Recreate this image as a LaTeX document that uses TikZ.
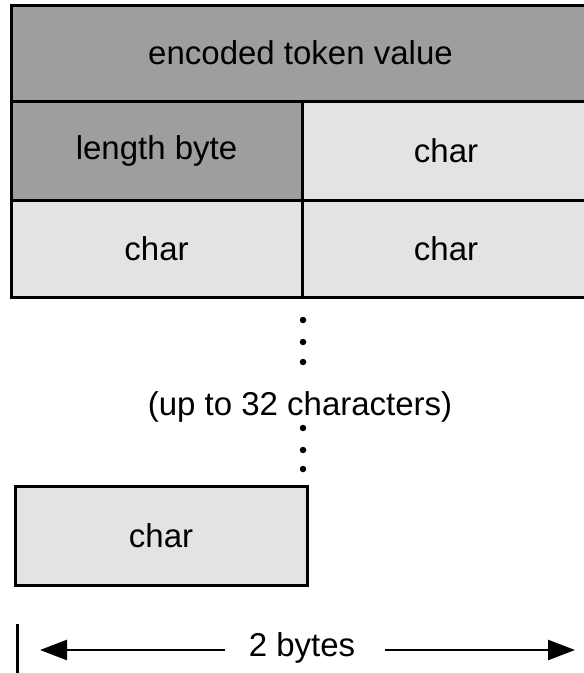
\documentclass[tikz,border=0pt]{standalone}
\usepackage{fontspec}
\setmainfont{Liberation Sans}
\usetikzlibrary{arrows.meta}

\definecolor{darkfill}{gray}{0.62}
\definecolor{lightfill}{gray}{0.89}

\tikzset{
  cell/.style={draw=black, line width=3pt, rectangle, inner sep=0pt,
               font=\fontsize{33}{38}\selectfont},
  darkcell/.style={cell, fill=darkfill},
  lightcell/.style={cell, fill=lightfill},
  label/.style={font=\fontsize{33}{38}\selectfont, inner sep=0pt},
  dot/.style={circle, fill=black, inner sep=0pt, minimum size=6.5pt},
  span/.style={line width=2.6pt, -{Triangle[length=27pt,width=20pt]}},
}

\begin{document}
\begin{tikzpicture}[x=1pt, y=-1pt]
  \useasboundingbox (0,0) rectangle (584,673);

  % record layout
  \node[darkcell, minimum width=579pt, minimum height=96pt] (token) at (300.5,53) {encoded token value};
  \node[darkcell, minimum width=291pt, minimum height=99pt] (len) at (156.5,150.5) {length byte};
  \node[lightcell, minimum width=288pt, minimum height=99pt] (c1) at (446,150.5) {char};
  \node[lightcell, minimum width=291pt, minimum height=97pt] (c2) at (156.5,248.5) {char};
  \node[lightcell, minimum width=288pt, minimum height=97pt] (c3) at (446,248.5) {char};

  % continuation marks
  \node[dot] (d1) at (303,320) {};
  \node[dot] (d2) at (303,342) {};
  \node[dot] (d3) at (303,362) {};
  \node[label] (upto) at (300,407) {(up to 32 characters)};
  \node[dot] (d4) at (303,428) {};
  \node[dot] (d5) at (303,450) {};
  \node[dot] (d6) at (303,469) {};

  % last character
  \node[lightcell, minimum width=292pt, minimum height=99pt] (clast) at (161,535.5) {char};

  % width indicator
  \coordinate (bartop) at (17,624);
  \coordinate (barbot) at (17,676);
  \draw[line width=3pt] (bartop) -- (barbot);
  \node[label] (bytes) at (302,648) {2 bytes};
  \coordinate (lstart) at (225,650);
  \coordinate (ltip) at (40,650);
  \coordinate (rstart) at (385,650);
  \coordinate (rtip) at (575,650);
  \draw[span] (lstart) -- (ltip);
  \draw[span] (rstart) -- (rtip);
\end{tikzpicture}
\end{document}
